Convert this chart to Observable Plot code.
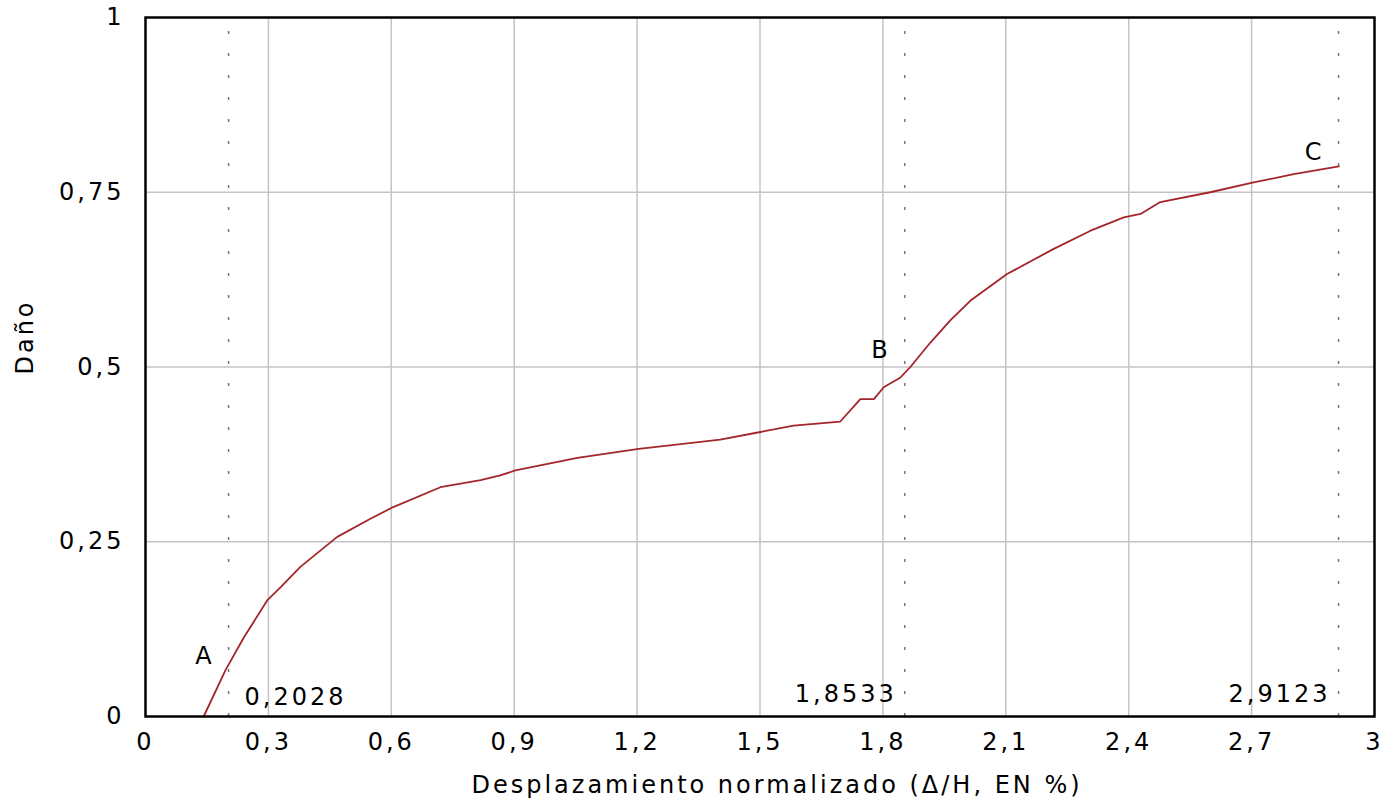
<!DOCTYPE html>
<html>
<head>
<meta charset="utf-8">
<script src="https://cdn.jsdelivr.net/npm/d3@7"></script>
<script src="https://cdn.jsdelivr.net/npm/@observablehq/plot@0.6"></script>
<style>
  html, body { margin: 0; padding: 0; background: #fff; }
  #chart svg { display: block; }
  #chart svg text { letter-spacing: 3px; }
</style>
</head>
<body>
<div id="chart"></div>
<script>
// Curve: normalized displacement (x) vs damage (y)
const dispX = [0.142,0.195,0.240,0.297,0.330,0.378,0.468,0.549,0.606,0.720,0.818,0.866,0.903,1.054,1.204,1.403,1.501,1.582,1.696,1.745,1.778,1.802,1.843,1.867,1.916,1.965,2.014,2.103,2.217,2.307,2.388,2.429,2.477,2.599,2.705,2.803,2.913];
const damageY = [0,0.066,0.113,0.166,0.185,0.214,0.257,0.283,0.300,0.328,0.338,0.345,0.352,0.370,0.383,0.396,0.407,0.416,0.422,0.454,0.454,0.471,0.485,0.500,0.535,0.567,0.595,0.633,0.669,0.695,0.714,0.719,0.736,0.750,0.764,0.776,0.787];

// Marked points A, B, C
const markNames = ["A", "B", "C"];
const markX = [0.2028, 1.8533, 2.9123];
const markLabels = ["0,2028", "1,8533", "2,9123"];
const markNameY = [0.086, 0.524, 0.807];

// Axes
const xTicks = [0, 0.3, 0.6, 0.9, 1.2, 1.5, 1.8, 2.1, 2.4, 2.7, 3];
const yTicks = [0, 0.25, 0.5, 0.75, 1];
const xGrid = [0.3, 0.6, 0.9, 1.2, 1.5, 1.8, 2.1, 2.4, 2.7];
const yGrid = [0.25, 0.5, 0.75];
const xTitle = "Desplazamiento normalizado (Δ/H, EN %)";
const yTitle = "Daño";

const curve = dispX.map((x, i) => ({x, y: damageY[i]}));
const marks = markNames.map((n, i) => ({name: n, x: markX[i], label: markLabels[i], ny: markNameY[i]}));
const fmt = d => String(d).replace(".", ",");

const FONT = "DejaVu Sans, Verdana, sans-serif";
const fs = 24;

const chart = Plot.plot({
  width: 1393,
  height: 809,
  marginLeft: 145,
  marginRight: 19,
  marginTop: 17,
  marginBottom: 93,
  style: {fontFamily: FONT, fontSize: fs + "px", background: "#fff", color: "#000"},
  x: {domain: [0, 3]},
  y: {domain: [0, 1]},
  marks: [
    Plot.ruleX(xGrid, {stroke: "#c4c4c4", strokeWidth: 1.5}),
    Plot.ruleY(yGrid, {stroke: "#c4c4c4", strokeWidth: 1.5}),
    Plot.ruleX(markX, {y1: 0, y2: 1, stroke: "#777", strokeWidth: 1.5, strokeDasharray: "3,19"}),
    Plot.line(curve, {x: "x", y: "y", stroke: "#a3262b", strokeWidth: 1.8}),
    Plot.frame({stroke: "#000", strokeWidth: 2.5}),
    Plot.axisX(xTicks, {tickSize: 0, tickPadding: 16, tickFormat: fmt, label: null, fontSize: fs}),
    Plot.axisY(yTicks, {tickSize: 0, tickPadding: 21, tickFormat: fmt, label: null, fontSize: fs}),
    // threshold value labels
    Plot.text(marks.slice(0, 1), {x: "x", y: 0, text: "label", textAnchor: "start", dx: 16, dy: -19, fontSize: fs}),
    Plot.text(marks.slice(1), {x: "x", y: 0, text: "label", textAnchor: "end", dx: -8, dy: -22, fontSize: fs}),
    // point names
    Plot.text(marks, {x: "x", y: "ny", text: "name", textAnchor: "end", dx: -14, fontSize: fs}),
    // axis titles
    Plot.text([xTitle], {frameAnchor: "bottom", text: d => d, textAnchor: "middle", lineAnchor: "middle", dx: 17, dy: 69, fontSize: fs}),
    Plot.text([yTitle], {frameAnchor: "left", text: d => d, textAnchor: "middle", lineAnchor: "middle", rotate: -90, dx: -120, dy: -30, fontSize: fs})
  ]
});
document.getElementById("chart").appendChild(chart);
</script>
</body>
</html>
